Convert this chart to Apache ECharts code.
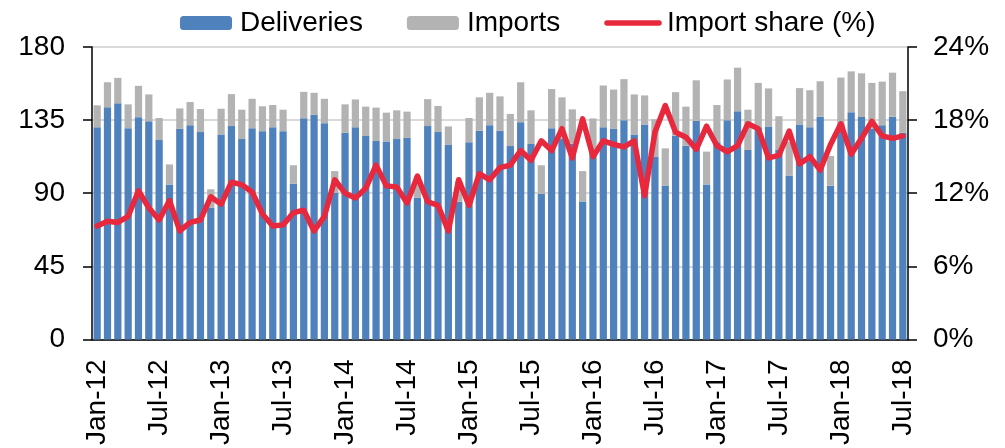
<!DOCTYPE html>
<html>
<head>
<meta charset="utf-8">
<script src="https://cdn.jsdelivr.net/npm/echarts@6/dist/echarts.min.js"></script>
<style>
  html, body { margin: 0; padding: 0; background: #fff; }
  #chart { width: 1005px; height: 448px; }
</style>
</head>
<body>
<div id="chart"></div>
<script>
const years = ['12', '13', '14', '15', '16', '17', '18'];
const monthNames = ['Jan', 'Feb', 'Mar', 'Apr', 'May', 'Jun', 'Jul', 'Aug', 'Sep', 'Oct', 'Nov', 'Dec'];

// Jan-12 .. Jul-18
const categories = [];
years.forEach((y) => {
  monthNames.forEach((m, i) => {
    if (y === '18' && i > 6) return;
    categories.push(m + '-' + y);
  });
});

const deliveries = [
  130.6, 142.9, 145.3, 130.0, 136.8, 134.3, 122.7, 95.4, 129.6, 131.9, 127.6, 81.2,
  126.2, 131.3, 123.3, 130.0, 128.2, 130.6, 128.2, 95.8, 136.1, 138.2, 133.1, 90.1,
  127.2, 130.6, 125.2, 122.1, 121.9, 123.3, 124.1, 87.1, 131.3, 127.6, 119.7, 84.7,
  121.3, 128.4, 131.9, 128.4, 119.0, 133.7, 120.3, 89.7, 130.0, 123.3, 120.5, 84.9,
  115.6, 130.6, 129.6, 134.9, 126.2, 132.3, 112.3, 94.8, 125.4, 119.2, 134.5, 95.4,
  121.4, 134.9, 140.4, 116.6, 130.6, 131.0, 116.6, 100.9, 132.3, 130.6, 137.1, 94.6,
  132.7, 139.8, 136.9, 129.6, 131.9, 137.1, 127.2,
];

const imports = [
  13.5, 15.4, 15.7, 14.7, 19.3, 16.5, 13.6, 12.3, 12.6, 14.2, 14.2, 11.2,
  15.8, 19.7, 18.1, 18.1, 15.3, 13.7, 13.2, 11.4, 16.3, 13.6, 15.0, 13.5,
  17.5, 17.1, 18.1, 20.6, 17.7, 17.7, 16.1, 13.4, 16.6, 16.1, 11.4, 12.7,
  15.0, 20.6, 19.9, 21.2, 19.8, 24.6, 20.7, 17.5, 24.1, 25.7, 21.1, 18.7,
  20.4, 25.7, 24.2, 25.3, 24.6, 17.9, 23.2, 22.8, 26.8, 24.1, 25.0, 20.2,
  22.9, 25.1, 26.9, 24.8, 27.3, 23.5, 20.8, 20.7, 22.4, 22.8, 21.8, 18.3,
  28.5, 25.2, 26.9, 28.3, 26.8, 27.1, 25.6,
];

const importShare = [
  9.3, 9.7, 9.6, 10.1, 12.2, 10.8, 9.8, 11.4, 8.9, 9.6, 9.8, 11.7,
  11.1, 12.9, 12.7, 12.1, 10.3, 9.3, 9.4, 10.4, 10.6, 8.9, 10.1, 13.1,
  12.0, 11.6, 12.4, 14.3, 12.6, 12.5, 11.2, 13.4, 11.3, 11.0, 8.9, 13.1,
  11.0, 13.6, 13.1, 14.1, 14.3, 15.5, 14.7, 16.3, 15.5, 17.3, 14.9, 18.1,
  15.0, 16.3, 16.0, 15.8, 16.3, 11.8, 17.0, 19.2, 17.0, 16.6, 15.6, 17.5,
  15.9, 15.4, 15.9, 17.7, 17.3, 14.9, 15.1, 17.1, 14.4, 15.0, 13.9, 16.0,
  17.7, 15.2, 16.5, 17.9, 16.7, 16.5, 16.7,
];

const font = "'Liberation Sans', Arial, sans-serif";
const red = '#e8283c';

const chart = echarts.init(document.getElementById('chart'));

chart.setOption({
  animation: false,
  backgroundColor: '#ffffff',
  textStyle: { fontFamily: font, color: '#000' },
  legend: {
    left: 175,
    top: 4,
    itemWidth: 52,
    itemHeight: 14,
    itemGap: 44,
    textStyle: { fontSize: 28, color: '#000', fontFamily: font, padding: [0, 0, 0, 3] },
    data: [
      'Deliveries',
      'Imports',
      {
        name: 'Import share (%)',
        itemStyle: { opacity: 0 },
        lineStyle: { width: 5.5, color: red, cap: 'round' },
      },
    ],
  },
  grid: {
    left: 92,
    right: 97,
    top: 47,
    bottom: 106,
  },
  xAxis: {
    type: 'category',
    data: categories,
    boundaryGap: true,
    axisLine: { lineStyle: { color: '#000', width: 1.5 } },
    axisTick: { interval: 5, length: 8, lineStyle: { color: '#000', width: 1.5 } },
    axisLabel: {
      interval: 5,
      rotate: 90,
      margin: 20,
      fontSize: 28,
      color: '#000',
      fontFamily: font,
      padding: [0, 0, 10, 0],
    },
  },
  yAxis: [
    {
      type: 'value',
      min: 0,
      max: 180,
      interval: 45,
      axisLine: { show: true, lineStyle: { color: '#000', width: 1.5 } },
      axisTick: { show: true, length: 9, lineStyle: { color: '#000', width: 1.5 } },
      axisLabel: { fontSize: 28, color: '#000', margin: 27, fontFamily: font },
      splitLine: { show: true, lineStyle: { color: '#d9d9d9', width: 2 } },
    },
    {
      type: 'value',
      min: 0,
      max: 24,
      interval: 6,
      position: 'right',
      axisLine: { show: true, lineStyle: { color: '#000', width: 1.5 } },
      axisTick: { show: true, length: 9, lineStyle: { color: '#000', width: 1.5 } },
      axisLabel: { fontSize: 28, color: '#000', margin: 25, formatter: '{value}%', fontFamily: font },
      splitLine: { show: false },
    },
  ],
  series: [
    {
      name: 'Deliveries',
      type: 'bar',
      stack: 'total',
      data: deliveries,
      barCategoryGap: '30%',
      itemStyle: { color: '#4f81bd' },
    },
    {
      name: 'Imports',
      type: 'bar',
      stack: 'total',
      data: imports,
      itemStyle: { color: '#b3b3b3' },
    },
    {
      name: 'Import share (%)',
      type: 'line',
      yAxisIndex: 1,
      data: importShare,
      symbol: 'none',
      z: 5,
      itemStyle: { color: red },
      lineStyle: { color: red, width: 5.5, join: 'round', cap: 'round' },
    },
  ],
});
</script>
</body>
</html>
